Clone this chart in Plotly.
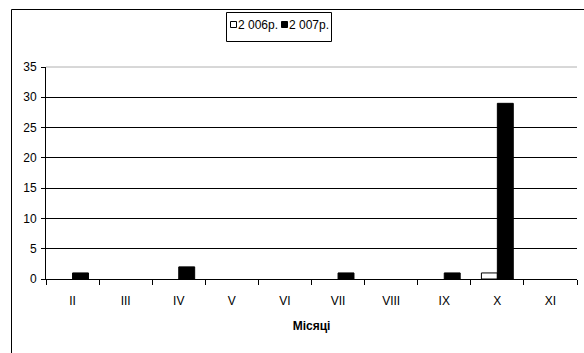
import plotly.graph_objects as go

months = ["II", "III", "IV", "V", "VI", "VII", "VIII", "IX", "X", "XI"]
values_2006 = [0, 0, 0, 0, 0, 0, 0, 0, 1, 0]
values_2007 = [1, 0, 2, 0, 0, 1, 0, 1, 29, 0]
series_names = ["2 006р.", "2 007р."]
y_ticks = [0, 5, 10, 15, 20, 25, 30, 35]

FONT = "Liberation Sans, Arial, sans-serif"


def nonzero(vals):
    # empty months get no bar at all
    return [v if v else None for v in vals]


fig = go.Figure()
fig.add_trace(go.Bar(
    x=months, y=nonzero(values_2006), name=series_names[0],
    marker=dict(color="white", line=dict(color="black", width=1)),
))
fig.add_trace(go.Bar(
    x=months, y=nonzero(values_2007), name=series_names[1],
    marker=dict(color="black", line=dict(color="black", width=1)),
))

# plot area: x 46..577, y 67..279 in a 584x353 page
L, R, T, B = 46, 7, 67, 74
W, H = 584, 353
pw, ph = W - L - R, H - T - B


def px(x):
    return (x - L) / pw


def py(y):
    return (H - B - y) / ph


shapes = [
    # chart frame
    dict(type="rect", xref="paper", yref="paper",
         x0=px(11.5), x1=px(600), y0=py(9.5), y1=py(370),
         line=dict(color="black", width=1), layer="below"),
    # lighter top edge of the plot area
    dict(type="line", xref="paper", yref="paper",
         x0=0, x1=1, y0=1, y1=1,
         line=dict(color="#b0b0b0", width=1)),
    # legend box
    dict(type="rect", xref="paper", yref="paper",
         x0=px(226.5), x1=px(331.5), y0=py(12.5), y1=py(41.5),
         line=dict(color="black", width=1), fillcolor="white"),
]
annotations = []

# legend keys and labels
key_x = [230.5, 281.5]
fills = ["white", "black"]
for kx, fill, name in zip(key_x, fills, series_names):
    shapes.append(dict(type="rect", xref="paper", yref="paper",
                       x0=px(kx), x1=px(kx + 6), y0=py(21.5), y1=py(27.5),
                       line=dict(color="black", width=1), fillcolor=fill))
    annotations.append(dict(xref="paper", yref="paper", x=px(kx + 7.5), y=py(25),
                            xanchor="left", yanchor="middle", showarrow=False,
                            borderpad=0, borderwidth=0,
                            text=name, font=dict(family=FONT, size=12, color="black")))

fig.update_layout(
    width=W, height=H,
    margin=dict(l=L, r=R, t=T, b=B, pad=0),
    paper_bgcolor="white", plot_bgcolor="white",
    font=dict(family=FONT, size=12, color="black"),
    barmode="group", bargap=0.4, bargroupgap=0,
    showlegend=False,
    xaxis=dict(
        showline=True, linecolor="black", linewidth=1,
        ticks="outside", tickson="boundaries", ticklen=5, tickcolor="black",
        showgrid=False,
        title=dict(text="<b>Місяці</b>", font=dict(family=FONT, size=12), standoff=14),
        tickfont=dict(family=FONT, size=12),
        ticklabelstandoff=11,
    ),
    yaxis=dict(
        range=[0, 35], tickvals=y_ticks,
        showline=True, linecolor="black", linewidth=1,
        ticks="outside", ticklen=4, tickcolor="black",
        showgrid=True, gridcolor="black", gridwidth=1,
        zeroline=False,
        tickfont=dict(family=FONT, size=12),
        ticklabelstandoff=2,
    ),
    shapes=shapes,
    annotations=annotations,
)

fig.write_html("out.html")
